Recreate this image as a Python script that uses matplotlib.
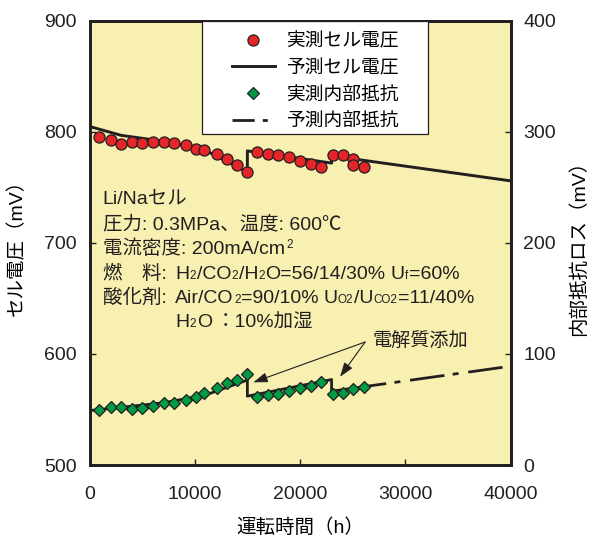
import matplotlib
matplotlib.use("Agg")
import matplotlib.pyplot as plt
from matplotlib.lines import Line2D
from matplotlib.patches import Rectangle

plt.rcParams['font.family'] = ['Liberation Sans', 'Noto Sans CJK JP']
plt.rcParams['lines.scale_dashes'] = False

# 実測セル電圧 (mV)
t_volt = [900, 2000, 3000, 4000, 5000, 6050, 7100, 8050, 9150, 10100, 10900, 12150, 13100, 14000, 14950,
          15950, 16950, 17950, 19000, 20000, 21000, 22000, 23100, 24050, 25050, 25050, 26100]
volt = [795.2, 792.8, 789.2, 791.0, 789.8, 791.0, 791.0, 789.8, 788.3, 785.0, 783.8, 780.2, 775.4, 770.3, 764.2,
        782.3, 780.2, 779.5, 777.2, 774.1, 771.2, 768.2, 779.5, 779.0, 775.4, 770.3, 768.7]

# 実測内部抵抗 (mV)
t_res = [900, 2000, 3000, 4000, 5000, 6050, 7100, 8050, 9150, 10100, 10900, 12150, 13100, 14000, 14950,
         15950, 16950, 17950, 19000, 20000, 21000, 22000, 23100, 24050, 25050, 26100]
res = [49.5, 52.2, 52.4, 50.3, 51.4, 52.9, 55.9, 55.9, 58.3, 61.5, 64.6, 69.5, 73.6, 76.3, 81.8,
       61.0, 63.1, 64.0, 66.7, 69.6, 71.4, 75.0, 64.0, 65.1, 68.5, 70.5]

# 予測セル電圧
t_volt_pred = [0, 3000, 6000, 9000, 11500, 15000, 15000, 23000, 23000, 40000]
volt_pred = [805, 797, 793, 788, 781, 764, 783, 772, 778.5, 756]

# 予測内部抵抗
t_res_pred = [0, 7000, 11000, 15000, 15000, 23000, 23000, 26100]
res_pred = [49, 56, 63, 76.5, 62, 77, 66.5, 70.6]
t_res_ext = [26100, 40000]
res_ext = [70.6, 89]

# 電解質添加 arrows (right axis)
add_tips_t = [15570, 23810]
add_tips_r = [74.5, 79.5]

red = '#E52629'
green = '#009944'
yellow = '#F8F0B1'
dark = '#231F20'

W, H = 595, 536
fig = plt.figure(figsize=(W / 100, H / 100), dpi=100)
ax = fig.add_axes([89.5 / W, 1 - 465 / H, 421 / W, 444 / H])
ax2 = ax.twinx()
ax.set_facecolor(yellow)
ax2.patch.set_visible(False)

ax.plot(t_volt_pred, volt_pred, color=dark, lw=2.1, zorder=2)
ax.plot(t_volt, volt, 'o', ms=8, mfc=red, mec=dark, mew=0.9, zorder=3)

ax2.plot(t_res_pred, res_pred, color=dark, lw=2.0, zorder=2)
ax2.plot(t_res_ext, res_ext, color=dark, lw=2.0, ls=(9, (25, 6, 4.3, 7)), zorder=2)
ax2.plot(t_res, res, 'D', ms=6, mfc=green, mec=dark, mew=0.9, zorder=3)

ax.set_xlim(0, 40000)
ax.set_ylim(500, 900)
ax2.set_ylim(0, 400)
ax.set_xticks(range(0, 40001, 10000))
ax.set_yticks(range(500, 901, 100))
ax2.set_yticks(range(0, 401, 100))

for a in (ax, ax2):
    for s in a.spines.values():
        s.set_linewidth(2.0)
        s.set_color(dark)
ax.tick_params(axis='both', direction='in', length=4.5, width=1, colors=dark, labelsize=14)
ax.tick_params(axis='y', pad=9)
ax.tick_params(axis='x', pad=15)
ax2.tick_params(axis='y', direction='in', length=4.5, width=1, colors=dark, labelsize=14, pad=9)

ax.set_xlabel('運転時間（h）', fontsize=14, labelpad=11)
ax.set_ylabel('セル電圧（mV）', fontsize=14, labelpad=13)
ax2.set_ylabel('内部抵抗ロス（mV）', fontsize=14, labelpad=10)

# legend box
ax2.add_patch(Rectangle((0.2672, 0.7455), 0.5368, 0.2545, transform=ax2.transAxes,
                        facecolor='white', edgecolor=dark, lw=0.9, zorder=4))
handles = [
    Line2D([], [], ls='none', marker='o', ms=8, mfc=red, mec=dark, mew=0.9),
    Line2D([], [], color=dark, lw=2.1),
    Line2D([], [], ls='none', marker='D', ms=6, mfc=green, mec=dark, mew=0.9),
    Line2D([], [], color=dark, lw=2.0, ls=(0, (16, 5.8, 3.6, 10))),
]
labels = ['実測セル電圧', '予測セル電圧', '実測内部抵抗', '予測内部抵抗']
leg = ax2.legend(handles, labels, loc='upper left', bbox_to_anchor=(0.325, 0.986),
                 frameon=False, fontsize=13.5, borderpad=0.3, borderaxespad=0,
                 handlelength=2.29, handletextpad=0.6, labelspacing=0.5)
leg.set_zorder(5)

# 電解質添加
ax2.text(26850, 111.5, '電解質添加', fontsize=13.8, ha='left', va='center', color=dark)
for tt, rr in zip(add_tips_t, add_tips_r):
    ax2.annotate('', xy=(tt, rr), xytext=(26185, 110.8),
                 arrowprops=dict(arrowstyle='-|>,head_length=0.86,head_width=0.3',
                                 mutation_scale=10, color=dark, lw=0.8,
                                 shrinkA=0, shrinkB=0))

# condition text
renderer = fig.canvas.get_renderer()


def put_runs(x_px, y_px, runs, size=14):
    for s, kind in runs:
        if kind == 'gap':
            x_px += s
            continue
        fs = size if kind == 'n' else size * 0.6
        dy = {'n': 0, 'sub': 0, 'sup': 6}[kind]
        t = fig.text(x_px / W, 1 - (y_px - dy) / H, s, fontsize=fs,
                     ha='left', va='baseline', color=dark)
        x_px += t.get_window_extent(renderer).width + 0.5


x0, x1 = 102.7, 175
put_runs(x0, 204, [('Li/Naセル', 'n')])
put_runs(x0, 229.3, [('圧力: 0.3MPa、温度: 600℃', 'n')])
put_runs(x0, 254, [('電流密度: 200mA/cm', 'n'), (1, 'gap'), ('2', 'sup')])
put_runs(x0, 279.3, [('燃　料:', 'n')])
put_runs(x1, 279.3, [('H', 'n'), ('2', 'sub'), ('/CO', 'n'), ('2', 'sub'), ('/H', 'n'), ('2', 'sub'),
                     ('O=56/14/30%', 'n'), (4, 'gap'), ('U', 'n'), ('f', 'sub'), ('=60%', 'n')])
put_runs(x0, 303.3, [('酸化剤:', 'n')])
put_runs(x1, 303.3, [('Air/CO', 'n'), ('2', 'sub'), ('=90/10%', 'n'), (4, 'gap'), ('U', 'n'), ('O2', 'sub'),
                     ('/U', 'n'), ('CO2', 'sub'), ('=11/40%', 'n')])
put_runs(x1, 327.3, [('H', 'n'), ('2', 'sub'), ('O', 'n'), (4, 'gap'), ('：10%加湿', 'n')])

fig.savefig('out.png', dpi=100)
